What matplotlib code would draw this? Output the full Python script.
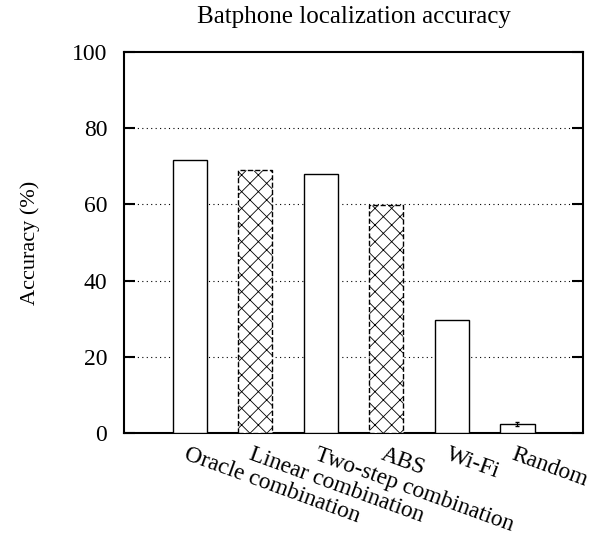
import matplotlib
matplotlib.use('Agg')
import matplotlib.pyplot as plt

methods = ['Oracle combination', 'Linear combination', 'Two-step combination',
           'ABS', 'Wi-Fi', 'Random']
accuracy = [71.7, 69.1, 68.1, 59.9, 29.6, 2.4]
random_err = 0.6
hatched = [False, True, False, True, False, False]
yticks = [0, 20, 40, 60, 80, 100]

plt.rcParams['font.family'] = ['Liberation Serif', 'DejaVu Serif']
plt.rcParams['hatch.linewidth'] = 0.6

fig = plt.figure(figsize=(5.98, 5.35), dpi=100)
ax = fig.add_axes([0.2074, 0.1907, 0.975 - 0.2074, 0.9028 - 0.1907])

for i, (m, v, h) in enumerate(zip(methods, accuracy, hatched)):
    ax.bar(i, v, width=0.52, color='white', edgecolor='black',
           linewidth=1.0, hatch='xx' if h else None,
           linestyle='--' if h else '-', zorder=3)

# small error bar only on the random baseline
last = len(methods) - 1
ax.errorbar(last, accuracy[last], yerr=random_err, fmt='none',
            ecolor='black', elinewidth=0.8, capsize=1.5, zorder=4)

ax.set_xlim(-1, 6)
ax.set_ylim(0, 100)
ax.set_yticks(yticks)
ax.tick_params(axis='y', direction='in', length=8, width=1.5,
               labelsize=17, right=True, pad=12)
ax.set_xticks(range(len(methods)))
ax.set_xticklabels([])
ax.tick_params(axis='x', length=0)
for i, m in enumerate(methods):
    ax.annotate(m, xy=(i, 0), xycoords=('data', 'axes fraction'),
                xytext=(-1, -8), textcoords='offset points',
                rotation=-20, rotation_mode='anchor', ha='left', va='top',
                fontsize=16.8)

for y in yticks[1:-1]:
    ax.axhline(y, color='black', linestyle=(0, (1, 3)), linewidth=0.8, zorder=1)

for side in ax.spines.values():
    side.set_linewidth(1.5)

ax.set_ylabel('Accuracy (%)', fontsize=16, va='center')
ax.yaxis.set_label_coords(-0.205, 0.5)
ax.set_title('Batphone localization accuracy', fontsize=18, pad=21)

fig.savefig('out.png', dpi=100)
